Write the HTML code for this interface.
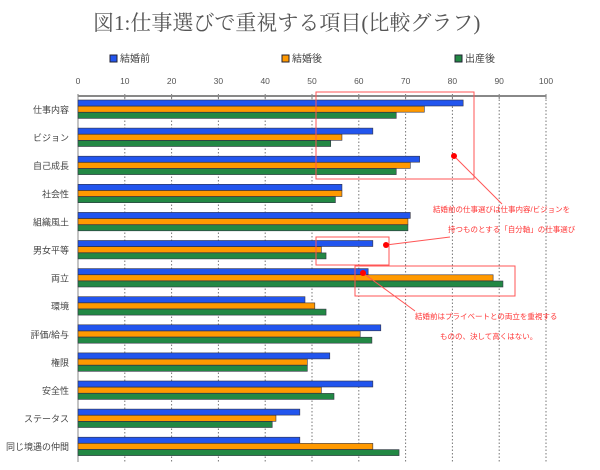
<!DOCTYPE html>
<html><head><meta charset="utf-8"><style>
html,body{margin:0;padding:0;background:#fff;width:600px;height:470px;overflow:hidden}
text{font-family:"Liberation Sans","Noto Sans CJK JP",sans-serif}
</style></head><body>
<svg width="600" height="470" viewBox="0 0 600 470" xmlns="http://www.w3.org/2000/svg">
<text x="93" y="30" font-size="21" fill="#555" style="font-family:'Liberation Serif','Noto Serif CJK SC',serif">図1:仕事選びで重視する項目(比較グラフ)</text>
<g font-size="10" fill="#444">
<rect x="110" y="55" width="7" height="7" fill="#2255ee" stroke="#223"/><text x="120" y="62">結婚前</text>
<rect x="282" y="55" width="7" height="7" fill="#ff9900" stroke="#223"/><text x="292" y="62">結婚後</text>
<rect x="455" y="55" width="7" height="7" fill="#228844" stroke="#223"/><text x="465" y="62">出産後</text>
</g>
<g font-size="8.5" fill="#555" text-anchor="middle" id="ticks"></g>
<g id="grid"></g>
<g id="bars"></g>
<g id="labels" font-size="9" fill="#444" text-anchor="end"></g>
<g fill="none" stroke="#f55" stroke-width="1">
<rect x="316" y="92" width="158" height="87"/>
<rect x="316" y="237" width="73" height="28"/>
<rect x="355" y="266" width="160" height="30"/>
<line x1="454" y1="156" x2="502" y2="204"/>
<line x1="386" y1="245" x2="450" y2="237"/>
<line x1="363" y1="273" x2="415" y2="311"/>
</g>
<g fill="#f00"><circle cx="454" cy="156" r="3"/><circle cx="386" cy="245" r="3"/><circle cx="363" cy="273" r="3"/></g>
<g font-size="7.5" fill="#f33">
<text x="433" y="212">結婚前の仕事選びは仕事内容/ビジョンを</text>
<text x="448" y="232">持つものとする「自分軸」の仕事選び</text>
<text x="415" y="319">結婚前はプライベートとの両立を重視する</text>
<text x="440" y="339">ものの、決して高くはない。</text>
</g>
</svg>
<script>
const X=v=>78+4.68*v;
const ns="http://www.w3.org/2000/svg";
function el(p,t,a,txt){const e=document.createElementNS(ns,t);for(const k in a)e.setAttribute(k,a[k]);if(txt)e.textContent=txt;document.getElementById(p).appendChild(e);}
for(let i=0;i<=100;i+=10){
el("ticks","text",{x:X(i),y:84},String(i));
if(i>0)el("grid","line",{x1:X(i),y1:96,x2:X(i),y2:462,stroke:"#777","stroke-dasharray":"1.5,2"});
el("grid","line",{x1:X(i),y1:94,x2:X(i),y2:99,stroke:"#777"});
}
el("grid","line",{x1:78,y1:96,x2:X(100),y2:96,stroke:"#888","stroke-width":2});
el("grid","line",{x1:78,y1:96,x2:78,y2:462,stroke:"#888"});
const cats=["仕事内容","ビジョン","自己成長","社会性","組織風土","男女平等","両立","環境","評価/給与","権限","安全性","ステータス","同じ境遇の仲間"];
const d=[[82.3,74,68],[63,56.4,54],[73,71,68],[56.4,56.4,55],[71,70.5,70.5],[63,52,53],[62,88.7,90.8],[48.5,50.6,53],[64.7,60.3,62.8],[53.8,49,49],[63,52,54.7],[47.4,42.3,41.5],[47.4,63,68.6]];
const col=["#2255ee","#ff9900","#228844"];
d.forEach((r,i)=>{const y0=100+i*28.1;
r.forEach((v,j)=>el("bars","rect",{x:78,y:y0+j*6.2,width:X(v)-78,height:6,fill:col[j],stroke:"#334","stroke-width":0.6}));
el("labels","text",{x:69,y:y0+13},cats[i]);});
</script>
</body></html>
